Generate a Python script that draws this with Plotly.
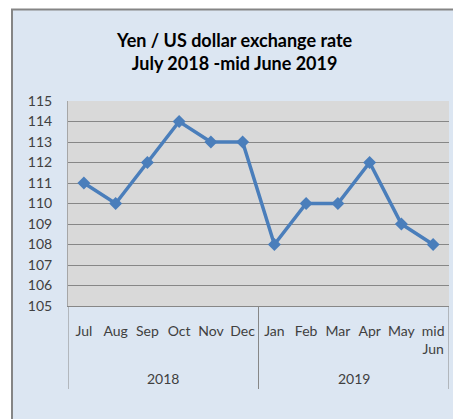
import plotly.graph_objects as go

months = ["Jul", "Aug", "Sep", "Oct", "Nov", "Dec", "Jan", "Feb", "Mar", "Apr", "May", "mid<br>Jun"]
rates = [111, 110, 112, 114, 113, 113, 108, 110, 110, 112, 109, 108]
years = ["2018", "2019"]
year_spans = [(0, 5), (6, 11)]
yticks = list(range(105, 116))

# window coordinates; the page body has an 8px margin
O = 8
WIN_W, WIN_H = 461, 419
W, H = WIN_W - O, WIN_H - O
PL, PR, PT, PB = 68, 449, 101, 306  # plot area in window pixels
L, R, T, B = PL - O, WIN_W - PR, PT - O, WIN_H - PB
pw, ph = W - L - R, H - T - B

def px_x(p):
    return (p - PL) / pw

def px_y(p):
    return (PB - p) / ph

FONT = "Lato"
GRID = "#878787"
BLUE = "#4a7ebb"
TXT = "#404040"

xs = list(range(len(months)))

fig = go.Figure()
fig.add_trace(go.Scatter(
    x=xs, y=rates, mode="lines+markers",
    line=dict(color=BLUE, width=3.5),
    marker=dict(symbol="diamond", size=10, color=BLUE),
    hoverinfo="skip",
))

shapes = [
    dict(type="rect", xref="paper", yref="paper", x0=px_x(0), x1=px_x(11), y0=px_y(O - 1), y1=px_y(430), fillcolor="white", line=dict(width=0), layer="below"),
    dict(type="rect", xref="paper", yref="paper", x0=px_x(0), x1=px_x(470), y0=px_y(O - 1), y1=px_y(9), fillcolor="white", line=dict(width=0), layer="below"),
    dict(type="line", xref="paper", yref="paper", x0=px_x(12), x1=px_x(12), y0=px_y(9), y1=px_y(430), line=dict(color="#858585", width=2)),
    dict(type="line", xref="paper", yref="paper", x0=px_x(11), x1=px_x(470), y0=px_y(9.5), y1=px_y(9.5), line=dict(color="#858585", width=2)),
]
for bx in [-0.5, 5.5, 11.5]:
    shapes.append(dict(type="line", xref="x", yref="paper", x0=bx, x1=bx, y0=0, y1=px_y(389), line=dict(color=GRID, width=1)))

annotations = [
    dict(text="<b>Yen / US dollar exchange rate<br>July 2018 -mid June 2019</b>", xref="paper", yref="paper",
         x=px_x(234), y=px_y(51), xanchor="center", yanchor="middle", showarrow=False,
         font=dict(family=FONT, size=18, color="#000000")),
]
for yr, (a, b) in zip(years, year_spans):
    annotations.append(dict(text=yr, xref="x", yref="paper", x=(a + b) / 2, y=px_y(378),
                            xanchor="center", yanchor="middle", showarrow=False,
                            font=dict(family=FONT, size=14, color=TXT)))

fig.update_layout(
    width=W, height=H,
    margin=dict(l=L, r=R, t=T, b=B, autoexpand=False),
    paper_bgcolor="#dce6f2",
    plot_bgcolor="#d9d9d9",
    showlegend=False,
    shapes=shapes,
    annotations=annotations,
    xaxis=dict(
        range=[-0.5, 11.5], tickmode="array", tickvals=xs, ticktext=months,
        showgrid=False, zeroline=False, showline=True, linecolor=GRID, linewidth=1,
        ticks="outside", ticklen=12, tickcolor="rgba(0,0,0,0)",
        tickfont=dict(family=FONT, size=14, color=TXT), tickangle=0,
        fixedrange=True, automargin=False,
    ),
    yaxis=dict(
        range=[105, 115], tickmode="array", tickvals=yticks,
        showgrid=True, gridcolor=GRID, gridwidth=1, zeroline=False,
        showline=True, linecolor="#a6a6a6", linewidth=1, mirror=False,
        ticks="outside", ticklen=12, tickcolor="rgba(0,0,0,0)",
        tickfont=dict(family=FONT, size=14, color=TXT),
        fixedrange=True, automargin=False,
    ),
)

fig.write_html("out.html")
